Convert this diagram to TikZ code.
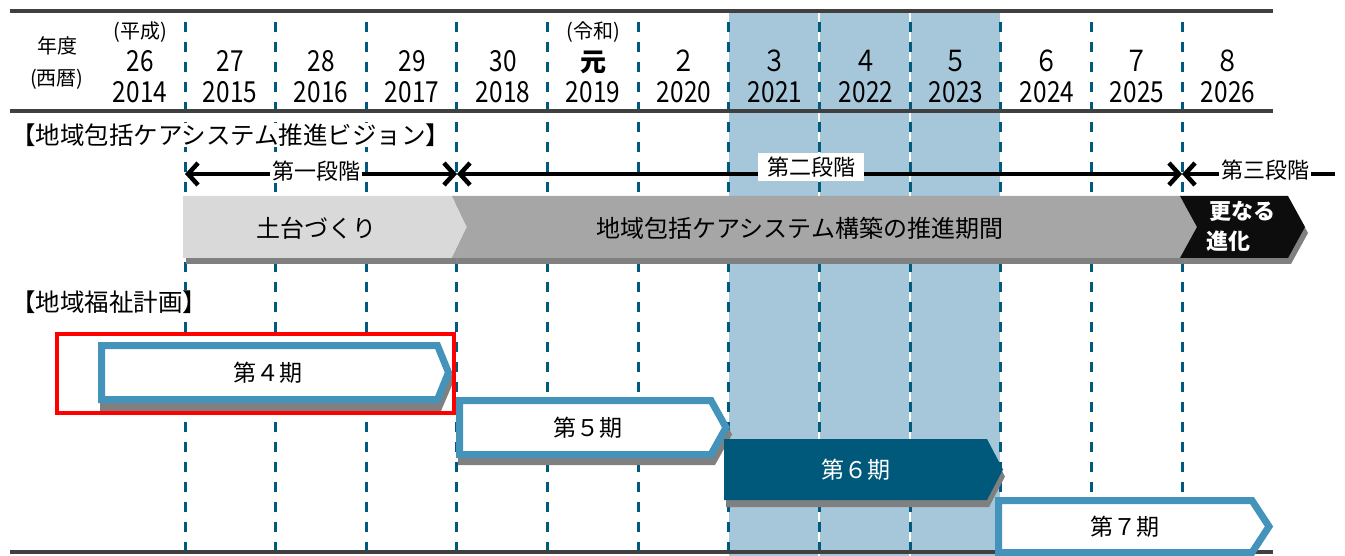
\documentclass[tikz,border=0pt]{standalone}
\usepackage{fontspec}
\setmainfont{Noto Sans CJK JP}
\newfontfamily\numfont[FakeStretch=0.84]{Noto Sans CJK JP}
\usetikzlibrary{arrows.meta}
\definecolor{bandblue}{RGB}{166,198,218}
\definecolor{gridteal}{RGB}{0,90,125}
\definecolor{rulegray}{RGB}{64,64,64}
\definecolor{planblue}{RGB}{68,147,186}
\definecolor{plandark}{RGB}{0,88,122}
\definecolor{shadegray}{RGB}{128,128,128}
\definecolor{lightchev}{RGB}{217,217,217}
\definecolor{midchev}{RGB}{166,166,166}
\definecolor{darkchev}{RGB}{13,13,13}
\begin{document}
\begin{tikzpicture}[x=1pt, y=-1pt,
    >={Straight Barb[length=10pt, width=22pt]},
    gridline/.style={draw=gridteal, line width=3pt, dash pattern=on 10pt off 10pt},
    rule/.style={draw=rulegray, line width=4pt},
    eralabel/.style={font=\fontsize{20}{20}\selectfont, inner sep=0pt},
    yearlabel/.style={font=\numfont\fontsize{29}{29}\selectfont, inner sep=0pt},
    heading/.style={font=\fontsize{24.5}{24.5}\selectfont, fill=white, inner sep=1pt, anchor=west},
    stagelabel/.style={font=\fontsize{22}{22}\selectfont, fill=white, inner sep=2pt},
    stagearrow/.style={draw=black, line width=4.5pt},
    chevtext/.style={font=\fontsize{24}{24}\selectfont},
    shadow/.style={fill=shadegray},
    planbox/.style={draw=planblue, line width=7pt, fill=white, line join=miter},
    plantext/.style={font=\fontsize{23}{23}\selectfont}]
  \useasboundingbox (0,0) rectangle (1345,556);
  \fill[bandblue] (729,13) rectangle (1000,556);
  \draw[white, line width=1.5pt] (819,13) -- (819,556);
  \draw[white, line width=1.5pt] (910,13) -- (910,556);
  \draw[gridline] (185,22) -- (185,552);
  \draw[gridline] (275.5,22) -- (275.5,552);
  \draw[gridline] (366,22) -- (366,552);
  \draw[gridline] (456.5,22) -- (456.5,552);
  \draw[gridline] (547,22) -- (547,552);
  \draw[gridline] (638,22) -- (638,552);
  \draw[gridline] (728.5,22) -- (728.5,552);
  \draw[gridline] (819,22) -- (819,552);
  \draw[gridline] (910,22) -- (910,552);
  \draw[gridline] (1000,22) -- (1000,552);
  \draw[gridline] (1091,22) -- (1091,552);
  \draw[gridline] (1182,22) -- (1182,552);
  \draw[rule] (10,11) -- (1273,11);
  \draw[rule] (10,111) -- (1273,111);
  \draw[rule] (10,552) -- (1273,552);

  \node[eralabel] (fy) at (57,46) {年度};
  \node[eralabel] (ce) at (57,79) {(西暦)};
  \node[eralabel] (heisei) at (140,32) {(平成)};
  \node[eralabel] (reiwa) at (593,32) {(令和)};
  \node[yearlabel] (j14) at (140,61) {26};
  \node[yearlabel] (j15) at (230,61) {27};
  \node[yearlabel] (j16) at (321,61) {28};
  \node[yearlabel] (j17) at (412,61) {29};
  \node[yearlabel] (j18) at (503,61) {30};
  \node[yearlabel, font=\fontsize{26}{26}\selectfont\bfseries] (j19) at (593,62) {元};
  \node[yearlabel] (j20) at (684,61) {２};
  \node[yearlabel] (j21) at (775,61) {３};
  \node[yearlabel] (j22) at (866,61) {４};
  \node[yearlabel] (j23) at (956,61) {５};
  \node[yearlabel] (j24) at (1047,61) {６};
  \node[yearlabel] (j25) at (1137,61) {７};
  \node[yearlabel] (j26) at (1228,61) {８};
  \node[yearlabel] (w14) at (140,92) {2014};
  \node[yearlabel] (w15) at (230,92) {2015};
  \node[yearlabel] (w16) at (321,92) {2016};
  \node[yearlabel] (w17) at (412,92) {2017};
  \node[yearlabel] (w18) at (503,92) {2018};
  \node[yearlabel] (w19) at (593,92) {2019};
  \node[yearlabel] (w20) at (684,92) {2020};
  \node[yearlabel] (w21) at (775,92) {2021};
  \node[yearlabel] (w22) at (866,92) {2022};
  \node[yearlabel] (w23) at (956,92) {2023};
  \node[yearlabel] (w24) at (1047,92) {2024};
  \node[yearlabel] (w25) at (1137,92) {2025};
  \node[yearlabel] (w26) at (1228,92) {2026};

  \node[heading] (vision) at (10,135) {【地域包括ケアシステム推進ビジョン】};
  \node[heading] (welfare) at (10,302) {【地域福祉計画】};

  \coordinate (st1) at (185,174);
  \coordinate (st2) at (457,174);
  \coordinate (st3) at (1182,174);
  \coordinate (st4) at (1335,174);
  \draw[stagearrow, <->] (st1) -- (st2);
  \draw[stagearrow, <->] (st2) -- (st3);
  \draw[stagearrow, <-] (st3) -- (st4);
  \node[stagelabel] (stage1) at (316,171) {第一段階};
  \node[stagelabel, minimum width=106pt, minimum height=28pt] (stage2) at (811,167) {第二段階};
  \node[stagelabel] (stage3) at (1265,170) {第三段階};

  \fill[shadow, shift={(3,6)}] (183,196) -- (452,196) -- (467,227) -- (452,258) -- (183,258) -- cycle;
  \fill[shadow, shift={(3,6)}] (452,196) -- (1180,196) -- (1197,227) -- (1180,258) -- (452,258) -- (467,227) -- cycle;
  \fill[shadow, shift={(3,6)}] (1180,196) -- (1288,196) -- (1305,227) -- (1288,258) -- (1180,258) -- (1197,227) -- cycle;
  \fill[lightchev] (183,196) -- (452,196) -- (467,227) -- (452,258) -- (183,258) -- cycle;
  \fill[midchev] (452,196) -- (1180,196) -- (1197,227) -- (1180,258) -- (452,258) -- (467,227) -- cycle;
  \fill[darkchev] (1180,196) -- (1288,196) -- (1305,227) -- (1288,258) -- (1180,258) -- (1197,227) -- cycle;
  \node[chevtext] (base) at (316,228) {土台づくり};
  \node[chevtext] (build) at (800,228) {地域包括ケアシステム構築の推進期間};
  \node[chevtext, text=white, font=\fontsize{22}{22}\selectfont\bfseries] (next1) at (1242,211) {更なる};
  \node[chevtext, text=white, font=\fontsize{22}{22}\selectfont\bfseries] (next2) at (1228,241) {進化};

  \fill[shadow, shift={(2,8)}] (98,342) -- (439,342) -- (452,372.5) -- (439,403) -- (98,403) -- cycle;
  \draw[planbox] (101.5,345.5) -- (437.5,345.5) -- (448.5,372.5) -- (437.5,399.5) -- (101.5,399.5) -- cycle;
  \node[plantext] (plan4) at (268,373) {第４期};
  \fill[shadow, shift={(2,7)}] (456,397) -- (713,397) -- (730,427.5) -- (713,458) -- (456,458) -- cycle;
  \draw[planbox] (459.5,400.5) -- (711,400.5) -- (726,427.5) -- (711,454.5) -- (459.5,454.5) -- cycle;
  \node[plantext] (plan5) at (588,428) {第５期};
  \fill[shadow, shift={(2,7)}] (724,439) -- (987,439) -- (1003,469.5) -- (987,500) -- (724,500) -- cycle;
  \fill[plandark] (724,439) -- (987,439) -- (1003,469.5) -- (987,500) -- (724,500) -- cycle;
  \node[plantext, text=white] (plan6) at (856,470) {第６期};
  \draw[planbox] (998.5,500.5) -- (1252,500.5) -- (1269,526.5) -- (1252,552.5) -- (998.5,552.5) -- cycle;
  \node[plantext] (plan7) at (1125,527) {第７期};

  \draw[red, line width=4pt] (57,334) rectangle (454,413);
\end{tikzpicture}
\end{document}
